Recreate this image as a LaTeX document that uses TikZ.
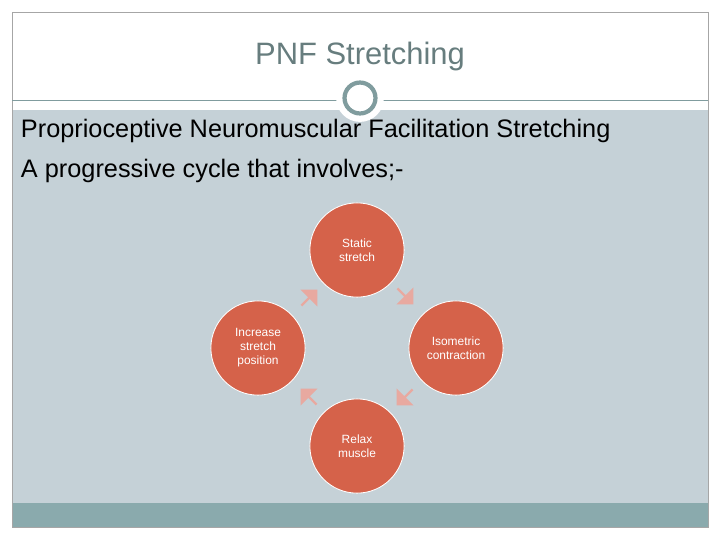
\documentclass[tikz,border=0pt]{standalone}
\usepackage{fontspec}
\setmainfont{Liberation Sans}
\usetikzlibrary{shapes.arrows, positioning}
\definecolor{slidebg}{HTML}{C5D1D7}
\definecolor{barcol}{HTML}{8AAAAD}
\definecolor{ringcol}{HTML}{809C9E}
\definecolor{stepcol}{HTML}{D5624A}
\definecolor{arrcol}{HTML}{E8A9A0}
\begin{document}
\begin{tikzpicture}[x=0.025cm, y=-0.025cm,
    phase/.style={circle, draw=white, line width=0.6pt, fill=stepcol, minimum size=67pt, inner sep=0pt, align=center, text=white, font=\fontsize{8.5}{10}\selectfont},
    chev/.style={single arrow, fill=arrcol, minimum height=16pt, minimum width=17pt, single arrow head extend=2pt, inner sep=0pt}
]
\useasboundingbox (0,0) rectangle (720,540);
% slide
\fill[white] (12,12) rectangle (708,527);
\fill[slidebg] (12,110) rectangle (708,503);
\fill[barcol] (12,503) rectangle (708,527);
\draw[gray!70, line width=0.4pt] (12,12) rectangle (708,527);
\draw[ringcol, line width=0.7pt] (12,100) -- (708,100);
\node[circle, fill=white, minimum size=34pt, inner sep=0pt] (halo) at (360,98) {};
\node[circle, draw=ringcol, line width=3pt, fill=white, minimum size=22pt, inner sep=0pt] (ring) at (360,98) {};
% texts
\node[text=ringcol!80!black, font=\fontsize{22}{26}\selectfont] (title) at (360,56) {PNF Stretching};
\node[anchor=west, font=\fontsize{18}{22}\selectfont] (line1) at (16,131) {Proprioceptive Neuromuscular Facilitation Stretching};
\node[anchor=west, font=\fontsize{18}{22}\selectfont] (line2) at (16,171) {A progressive cycle that involves;-};
% cycle
\node[phase] (static) at (357,250) {Static\\stretch};
\node[phase] (iso) at (456,348) {Isometric\\contraction};
\node[phase] (relax) at (357,446) {Relax\\muscle};
\node[phase] (incr) at (258,348) {Increase\\stretch\\position};
\node[chev, rotate=-45] (a1) at (405,296) {};
\node[chev, rotate=-135] (a2) at (405,397) {};
\node[chev, rotate=135] (a3) at (309,397) {};
\node[chev, rotate=45] (a4) at (309,298) {};
\end{tikzpicture}
\end{document}
